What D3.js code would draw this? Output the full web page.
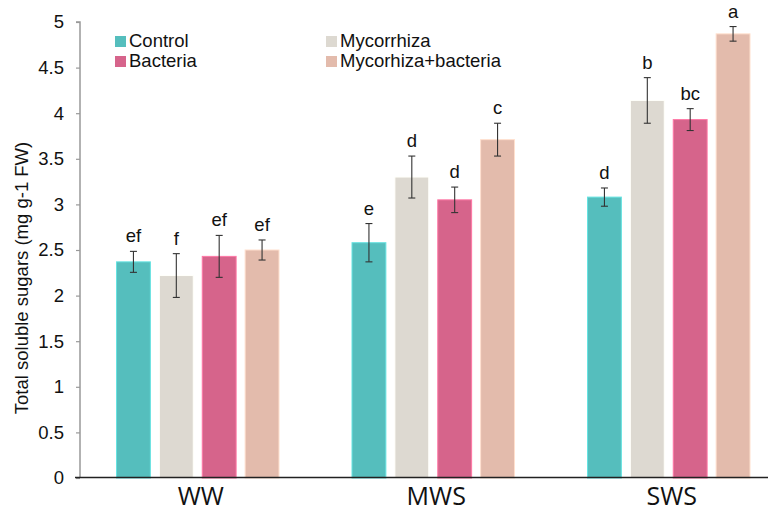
<!DOCTYPE html>
<html>
<head>
<meta charset="utf-8">
<script src="https://cdn.jsdelivr.net/npm/d3@7"></script>
<style>
  html, body { margin: 0; padding: 0; background: #fff; }
  svg { display: block; }
  text { font-family: "Liberation Sans", Arial, sans-serif; fill: #111; }
</style>
</head>
<body>
<svg id="chart" width="768" height="512"></svg>
<script>
// Water regimes and inoculation treatments
const groups = ["WW", "MWS", "SWS"];
const series = ["Control", "Mycorrhiza", "Bacteria", "Mycorhiza+bacteria"];
const colors = ["#55bebd", "#ddd9d1", "#d6648b", "#e3bbac"];

// Mean total soluble sugars (mg g-1 FW), one array per treatment, ordered WW, MWS, SWS
const controlVals = [2.37, 2.58, 3.08];
const mycorrhizaVals = [2.22, 3.30, 4.14];
const bacteriaVals = [2.43, 3.05, 3.93];
const mycBactVals = [2.50, 3.71, 4.87];

// Standard errors
const controlErr = [0.115, 0.21, 0.10];
const mycorrhizaErr = [0.24, 0.23, 0.25];
const bacteriaErr = [0.23, 0.14, 0.12];
const mycBactErr = [0.11, 0.18, 0.08];

// Significance letters
const controlLetters = ["ef", "e", "d"];
const mycorrhizaLetters = ["f", "d", "b"];
const bacteriaLetters = ["ef", "d", "bc"];
const mycBactLetters = ["ef", "c", "a"];

const yTicks = [0, 0.5, 1, 1.5, 2, 2.5, 3, 3.5, 4, 4.5, 5];
const yTickLabels = ["0", "0.5", "1", "1.5", "2", "2.5", "3", "3.5", "4", "4.5", "5"];

const values = [controlVals, mycorrhizaVals, bacteriaVals, mycBactVals];
const errors = [controlErr, mycorrhizaErr, bacteriaErr, mycBactErr];
const letters = [controlLetters, mycorrhizaLetters, bacteriaLetters, mycBactLetters];

const rows = [];
series.forEach((s, si) => {
  groups.forEach((g, gi) => {
    rows.push({ group: g, series: s, si, value: values[si][gi], err: errors[si][gi], letter: letters[si][gi] });
  });
});

const svg = d3.select("#chart");
const axisX = 80, y0 = 478, yTop = 22;

const y = d3.scaleLinear().domain([0, 5]).range([y0, yTop]);
const x0 = d3.scaleBand().domain(groups).range([axisX, 786.5]).paddingInner(0).paddingOuter(0);
const gw = x0.bandwidth();
const x1 = d3.scaleBand().domain(series).range([36.5, gw - 36.5]).paddingInner(0.21).paddingOuter(0);

// Bars
const barG = svg.append("g");
barG.selectAll("rect").data(rows).join("rect")
  .attr("x", d => x0(d.group) + x1(d.series))
  .attr("y", d => y(d.value))
  .attr("width", x1.bandwidth())
  .attr("height", d => y0 - y(d.value))
  .attr("fill", d => colors[d.si])
  .attr("stroke", d => d3.color(colors[d.si]).brighter(0.5))
  .attr("stroke-width", 1);

// Error bars
const errG = svg.append("g").attr("stroke", "#333").attr("stroke-width", 1.1);
rows.forEach(d => {
  const cx = x0(d.group) + x1(d.series) + x1.bandwidth() / 2;
  const yHi = y(d.value + d.err), yLo = y(d.value - d.err);
  errG.append("line").attr("x1", cx).attr("x2", cx).attr("y1", yHi).attr("y2", yLo);
  errG.append("line").attr("x1", cx - 3.5).attr("x2", cx + 3.5).attr("y1", yHi).attr("y2", yHi);
  errG.append("line").attr("x1", cx - 3.5).attr("x2", cx + 3.5).attr("y1", yLo).attr("y2", yLo);
});

// Significance letters above error bars
svg.append("g").selectAll("text").data(rows).join("text")
  .attr("x", d => x0(d.group) + x1(d.series) + x1.bandwidth() / 2)
  .attr("y", d => y(d.value + d.err) - 9)
  .attr("text-anchor", "middle")
  .style("font-size", "18.5px")
  .text(d => d.letter);

// Y axis
const yAxis = d3.axisLeft(y).tickValues(yTicks).tickFormat((d, i) => yTickLabels[i]).tickSize(4).tickPadding(12);
const yg = svg.append("g").attr("transform", `translate(${axisX},0)`).call(yAxis);
yg.select(".domain").attr("stroke", "#999").attr("stroke-width", 1.5).attr("d", `M-4,${yTop}H0V${y0}`);
yg.selectAll(".tick line").attr("stroke", "#999").attr("stroke-width", 1.2);
yg.selectAll(".tick text").style("font-size", "18.5px").style("font-family", "'Liberation Sans', Arial, sans-serif").attr("fill", "#111");

// X axis baseline
svg.append("line").attr("x1", 75).attr("x2", 768).attr("y1", y0 - 0.5).attr("y2", y0 - 0.5)
  .attr("stroke", "#222").attr("stroke-width", 1.4);

// Group labels
svg.append("g").selectAll("text").data(groups).join("text")
  .attr("x", d => x0(d) + gw / 2 + 3)
  .attr("y", 505)
  .attr("text-anchor", "middle")
  .style("font-family", "'Open Sans', 'DejaVu Sans', sans-serif")
  .style("font-size", "25px")
  .text(d => d);

// Y axis title
svg.append("text")
  .attr("transform", "translate(28,278) rotate(-90)")
  .attr("text-anchor", "middle")
  .style("font-size", "18.5px")
  .text("Total soluble sugars (mg g-1 FW)");

// Legend: two columns, two rows
const legendPos = [[115, 36], [326, 36], [115, 56], [326, 56]];
const legend = svg.append("g");
series.forEach((s, i) => {
  const [lx, ly] = legendPos[i];
  legend.append("rect").attr("x", lx).attr("y", ly).attr("width", 11).attr("height", 11).attr("fill", colors[i]);
  legend.append("text").attr("x", lx + 14).attr("y", ly + 11).style("font-size", "18.5px").text(s);
});
</script>
</body>
</html>
